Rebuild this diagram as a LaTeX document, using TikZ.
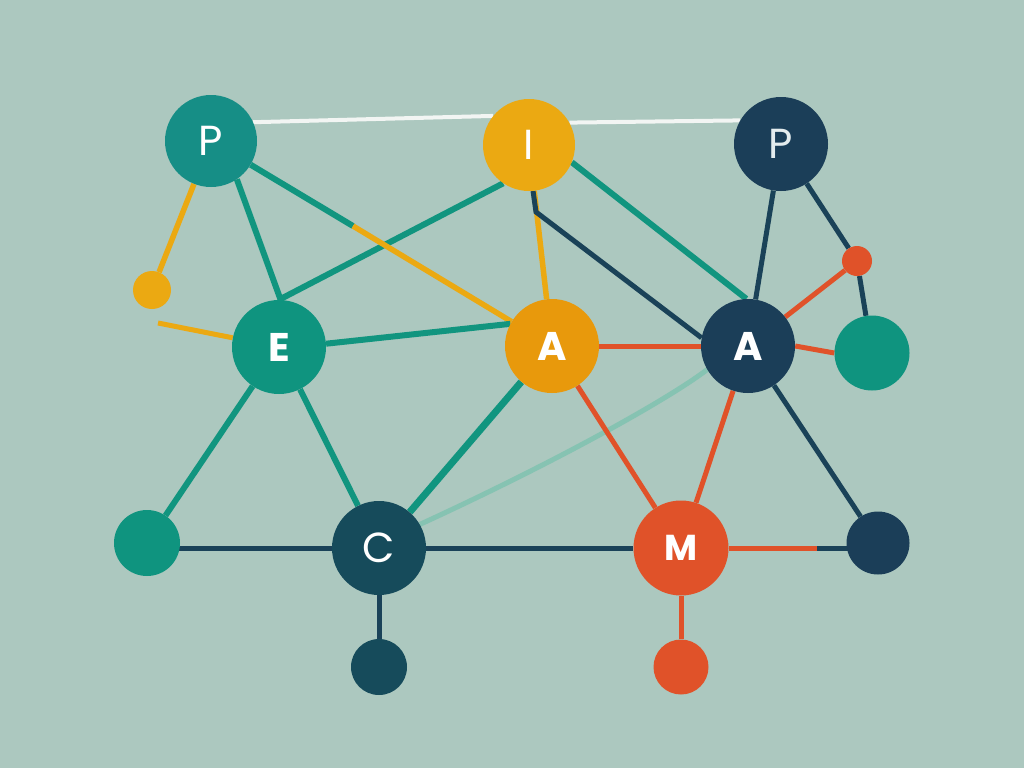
\documentclass[tikz,border=0pt]{standalone}
\usepackage{fontspec}
\setmainfont{Poppins}
\definecolor{bg}{HTML}{ACC8BF}
\definecolor{tealP}{HTML}{168E86}
\definecolor{teal}{HTML}{0F947F}
\definecolor{tealline}{HTML}{11957F}
\definecolor{faint}{HTML}{86C3B2}
\definecolor{yel}{HTML}{EBA912}
\definecolor{orng}{HTML}{E8990C}
\definecolor{navy}{HTML}{1B3E58}
\definecolor{navyC}{HTML}{164B5B}
\definecolor{navyline}{HTML}{1A4258}
\definecolor{red}{HTML}{E05229}
\definecolor{wline}{HTML}{F2F5F3}
\definecolor{lightP}{HTML}{E4ECEE}
\pgfdeclarelayer{bgfill}
\pgfdeclarelayer{edges}
\pgfsetlayers{bgfill,edges,main}
\tikzset{
  dot/.style={circle, inner sep=0pt, draw=none},
  lbl/.style={text=white, font=\fontsize{42}{42}\selectfont},
  lblb/.style={text=white, font=\fontsize{40}{40}\selectfont\bfseries},
  tl/.style={draw=tealline, line width=6pt},
  yl/.style={draw=yel, line width=5.5pt},
  nl/.style={draw=navyline, line width=5pt},
  rl/.style={draw=red, line width=5pt},
  wl/.style={draw=wline, line width=4pt},
}
\begin{document}
\begin{tikzpicture}[x=1pt,y=-1pt]
\begin{pgfonlayer}{bgfill}
\fill[bg] (0,0) rectangle (1024,768);
\end{pgfonlayer}
\useasboundingbox (0,0) rectangle (1024,768);

% nodes
\node[dot, fill=tealP, minimum size=92pt, lbl] (P1) at (211,141) {P};
\node[dot, fill=yel, minimum size=92pt, lbl] (I) at (529,145) {I};
\node[dot, fill=navy, minimum size=94pt, lbl, text=lightP] (P2) at (781,144) {P};
\node[dot, fill=yel, minimum size=38pt] (Y) at (152,290) {};
\node[dot, fill=red, minimum size=30pt] (R) at (857,261) {};
\node[dot, fill=teal, minimum size=94pt, lblb] (E) at (279,347) {E};
\node[dot, fill=orng, minimum size=94pt, lblb] (A1) at (552,346) {A};
\node[dot, fill=navy, minimum size=94pt, lblb] (A2) at (748,346) {A};
\node[dot, fill=teal, minimum size=75pt] (T) at (872,353) {};
\node[dot, fill=teal, minimum size=66pt] (TL) at (147,543) {};
\node[dot, fill=navyC, minimum size=94pt, lbl] (C) at (379,548) {C};
\node[dot, fill=red, minimum size=95pt, lblb, font=\fontsize{36}{36}\selectfont\bfseries] (M) at (681,548) {M};
\node[dot, fill=navy, minimum size=63pt] (NR) at (878,543) {};
\node[dot, fill=navyC, minimum size=56pt] (NB) at (379,667) {};
\node[dot, fill=red, minimum size=55pt] (RB) at (681,667) {};

\coordinate (pa) at (353,226);
\coordinate (ib) at (536,212);
\coordinate (ys) at (158,323);
\coordinate (mn) at (817,548);

% edges
\begin{pgfonlayer}{edges}
\draw[wl] (P1.24) -- (I.141);
\draw[wl] (I.29) -- (P2.150);
\draw[yl] (P1) -- (Y);
\draw[tl] (P1.-56) -- (E.88);
\draw[tl] (I.-124) -- (E.90);
\draw[tl] (P1) -- (pa);
\draw[yl] (pa) -- (A1);
\draw[yl] (I) -- (A1);
\draw[nl] (I.-85) -- (ib) -- (A2.170);
\draw[tl] (I.-22) -- (A2.92);
\draw[nl] (P2) -- (A2);
\draw[nl] (P2) -- (R);
\draw[nl] (R) -- (T);
\draw[rl] (R) -- (A2);
\draw[rl] (A1) -- (A2);
\draw[rl] (A2.east) -- (T.west);
\draw[yl, line width=5pt] (ys) -- (E);
\draw[tl] (E.4) -- (A1.152);
\draw[tl] (E) -- (TL);
\draw[tl] (E) -- (C);
\draw[tl, line width=7pt] (A1) -- (C);
\draw[draw=faint, line width=5pt] (A2.-150) .. controls (670,398) and (560,460) .. (C.30);
\draw[rl] (A1) -- (M);
\draw[rl] (A2) -- (M);
\draw[nl] (A2) -- (NR);
\draw[nl] (TL.center |- C) -- (C);
\draw[nl] (C) -- (M);
\draw[rl] (M) -- (mn);
\draw[nl] (mn) -- (NR.center |- mn);
\draw[nl] (C) -- (NB);
\draw[rl] (M) -- (RB);
\end{pgfonlayer}
\end{tikzpicture}
\end{document}
